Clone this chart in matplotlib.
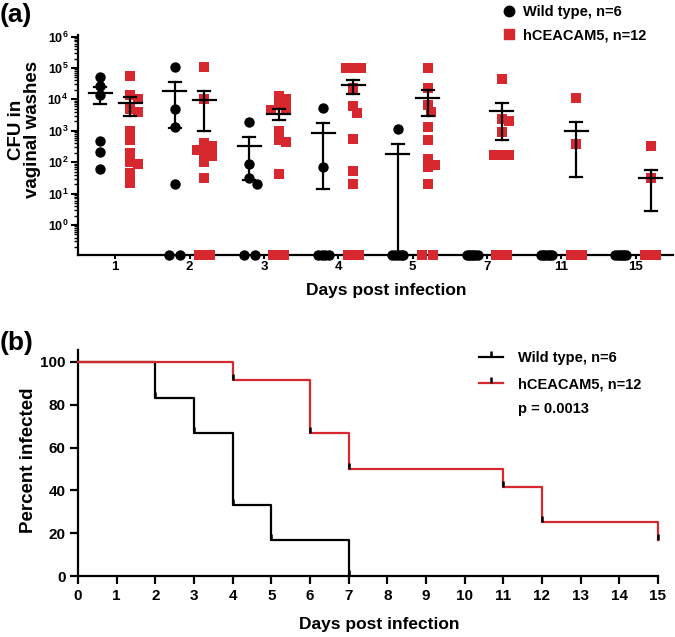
import numpy as np
import matplotlib
matplotlib.use('Agg')
import matplotlib.pyplot as plt
from matplotlib.path import Path
from matplotlib.lines import Line2D
from matplotlib.ticker import FixedLocator, FuncFormatter, LogLocator, NullFormatter

plt.rcParams['font.family'] = ['Liberation Sans', 'DejaVu Sans']
plt.rcParams['font.weight'] = 'bold'
plt.rcParams['axes.labelweight'] = 'bold'
plt.rcParams['mathtext.fontset'] = 'custom'
plt.rcParams['mathtext.rm'] = 'Liberation Sans:bold'
plt.rcParams['mathtext.bf'] = 'Liberation Sans:bold'
plt.rcParams['mathtext.it'] = 'Liberation Sans:bold'
plt.rcParams['mathtext.default'] = 'rm'

RED = '#d7282f'

#---------------------------------------------------------------------------------------------
# (a) CFU per mouse on each day, 0 = nothing recovered
days = ['1', '2', '3', '4', '5', '7', '11', '15']
wt_cfu = [
    [52000, 27000, 13800, 480, 210, 61],
    [105000, 4900, 1350, 20, 0, 0],
    [1870, 86, 31, 20, 0, 0],
    [5200, 72, 0, 0, 0, 0],
    [1120, 0, 0, 0, 0, 0],
    [0, 0, 0, 0, 0, 0],
    [0, 0, 0, 0, 0, 0],
    [0, 0, 0, 0, 0, 0],
]
hc_cfu = [
    [56000, 14000, 10000, 5000, 4000, 1000, 500, 200, 100, 90, 45, 22],
    [105000, 10000, 400, 320, 250, 200, 160, 100, 31, 0, 0, 0],
    [13000, 10000, 7000, 5500, 4500, 1000, 500, 450, 41, 0, 0, 0],
    [100000, 100000, 100000, 22500, 6200, 3600, 540, 54, 20, 0, 0, 0],
    [100000, 22500, 6600, 4000, 1350, 510, 126, 81, 72, 20, 0, 0],
    [44000, 2400, 2000, 900, 170, 170, 170, 0, 0, 0, 0, 0],
    [11300, 370, 0, 0, 0, 0, 0, 0, 0, 0, 0, 0],
    [335, 31, 0, 0, 0, 0, 0, 0, 0, 0, 0, 0],
]

# (b) Kaplan-Meier, percent still infected
km_days_wt = [0, 2, 3, 4, 5, 7]
km_wt = [100, 83.3, 66.7, 33.3, 16.7, 0]
km_days_hc = [0, 4, 6, 7, 11, 12, 15]
km_hc = [100, 91.7, 66.7, 50, 41.7, 25, 16.7]

YBOT, YTOP = 0.111, 1.12e6
PX_X = 74.4    # pixels per category
PX_DEC = 31.4  # pixels per decade


def swarm(vals, d=7.5):
  # small beeswarm in pixel space, returns x offsets in data units
  vals = np.asarray(vals, float)
  off = np.zeros(len(vals))
  zeros = np.where(vals <= 0)[0]
  if len(zeros) > 1:
    off[zeros] = np.linspace(-5.5, 5.5, len(zeros))
  nz = np.where(vals > 0)[0]
  ypx = np.log10(vals[nz]) * PX_DEC
  placed = []
  cands = [0]
  for k in range(1, 8):
    cands += [k * d / 2, -k * d / 2]
  for i in np.argsort(-ypx):
    for c in cands:
      if all(np.hypot(c - xo, ypx[i] - yo) >= d for xo, yo in placed):
        break
    placed.append((c, ypx[i]))
    off[nz[i]] = c
  return off / PX_X


def mean_sem(ax, x, vals):
  v = np.asarray(vals, float)
  m = v.mean()
  if m <= 0:
    return
  s = v.std(ddof=1) / np.sqrt(len(v))
  lo, hi = m - s, m + s
  kw = dict(color='k', lw=1.6, zorder=5, clip_on=False)
  ax.plot([x - 0.155, x + 0.155], [m, m], **kw)
  ax.plot([x, x], [max(lo, YBOT), hi], **kw)
  ax.plot([x - 0.08, x + 0.08], [hi, hi], **kw)
  if lo > YBOT:
    ax.plot([x - 0.08, x + 0.08], [lo, lo], **kw)


fig = plt.figure(figsize=(6.75, 6.37), dpi=100)
ax = fig.add_axes([78/675, 1 - 255/637, 595/675, 220/637])

for i in range(len(days)):
  for vals, dx, mk, col, sz in [(wt_cfu[i], -0.2, 'o', 'k', 56), (hc_cfu[i], 0.2, 's', RED, 50)]:
    v = np.asarray(vals, float)
    xs = i + dx + swarm(v)
    ys = np.where(v > 0, v, YBOT)
    ax.scatter(xs, ys, marker=mk, s=sz, color=col, linewidths=0, zorder=4, clip_on=False)
    mean_sem(ax, i + dx, v)

ax.set_yscale('log')
ax.set_ylim(YBOT, YTOP)
ax.set_xlim(-0.5, len(days) - 0.5)
ax.set_xticks(range(len(days)))
ax.set_xticklabels(days, fontsize=9.5)
ax.yaxis.set_major_locator(FixedLocator([10.0**k for k in range(0, 7)]))
ax.yaxis.set_major_formatter(FuncFormatter(lambda v, p: r'$10^{%d}$' % round(np.log10(v))))
ax.yaxis.set_minor_locator(LogLocator(base=10, subs=np.arange(2, 10)))
ax.yaxis.set_minor_formatter(NullFormatter())
ax.tick_params(axis='y', which='major', labelsize=9, length=5, width=1.5, pad=2)
ax.tick_params(axis='y', which='minor', length=3, width=1)
ax.tick_params(axis='x', length=3, width=1.5, pad=1)
for sp in ['top', 'right']:
  ax.spines[sp].set_visible(False)
for sp in ['left', 'bottom']:
  ax.spines[sp].set_linewidth(1.6)
ax.set_xlabel('Days post infection', fontsize=12.5)
ax.xaxis.set_label_coords(0.518, -0.125)
ax.set_ylabel('CFU in\nvaginal washes', fontsize=13.5, linespacing=0.95)
ax.yaxis.set_label_coords(-0.062, 0.57)

leg1 = [Line2D([], [], ls='none', marker='o', color='k', ms=7.5),
        Line2D([], [], ls='none', marker='s', color=RED, ms=7)]
fig.legend(leg1, ['Wild type, n=6', 'hCEACAM5, n=12'], loc='upper left',
           bbox_to_anchor=(503/675, 1 - 5/637), frameon=False, fontsize=10.5,
           borderpad=0, borderaxespad=0, handlelength=0.8, handletextpad=0.6,
           labelspacing=0.65)

#---------------------------------------------------------------------------------------------
ax2 = fig.add_axes([78/675, 1 - 576/637, 580/675, 226/637])
tick = Path([(0, 0), (0, 1)])
ax2.step(km_days_wt, km_wt, where='post', color='k', lw=1.6, clip_on=False, zorder=3)
ax2.step(km_days_hc, km_hc, where='post', color=RED, lw=1.6, clip_on=False, zorder=3)
ax2.plot(km_days_wt[1:], km_wt[1:], ls='none', marker=tick, ms=9, mec='k', mew=1.8,
         clip_on=False, zorder=4)
ax2.plot(km_days_hc[1:], km_hc[1:], ls='none', marker=tick, ms=9, mec='k', mew=1.8,
         clip_on=False, zorder=4)

ax2.set_xlim(0, 15)
ax2.set_ylim(0, 105.6)
ax2.set_xticks(range(0, 16))
ax2.set_yticks(range(0, 101, 20))
ax2.tick_params(labelsize=11, length=6, width=1.6, pad=3)
for sp in ['top', 'right']:
  ax2.spines[sp].set_visible(False)
for sp in ['left', 'bottom']:
  ax2.spines[sp].set_linewidth(1.6)
ax2.set_xlabel('Days post infection', fontsize=12.5)
ax2.xaxis.set_label_coords(0.52, -0.183)
ax2.set_ylabel('Percent infected', fontsize=13.5)
ax2.yaxis.set_label_coords(-0.071, 0.513)

leg2 = [Line2D([], [], color='k', lw=1.6, marker=tick, ms=9, mec='k', mew=1.8),
        Line2D([], [], color=RED, lw=1.6, marker=tick, ms=9, mec='k', mew=1.8)]
fig.legend(leg2, ['Wild type, n=6', 'hCEACAM5, n=12'], loc='upper left',
           bbox_to_anchor=(479/675, 1 - 351/637), frameon=False, fontsize=10.5,
           borderpad=0, borderaxespad=0, handlelength=1.65, handletextpad=1.0,
           labelspacing=0.85, numpoints=1)
fig.text(518/675, 1 - 409/637, 'p = 0.0013', fontsize=10.5, va='center', ha='left')

fig.text(0.0, 1 - 3/637, '(a)', fontsize=19, va='top', ha='left')
fig.text(0.0, 1 - 331/637, '(b)', fontsize=19, va='top', ha='left')

fig.savefig('out.png', dpi=100)
